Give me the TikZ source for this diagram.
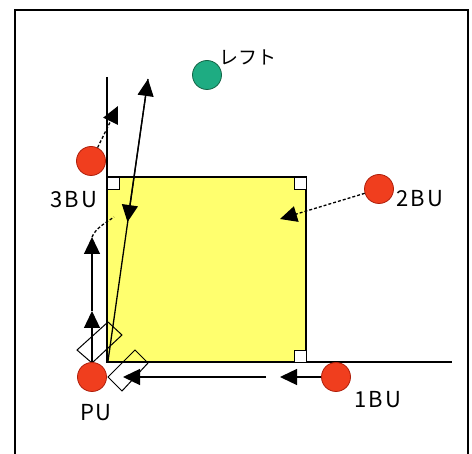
\documentclass[tikz,border=0pt]{standalone}
\usepackage{fontspec}
\newfontfamily\jpfont{Noto Sans CJK JP}
\usetikzlibrary{arrows.meta}
\definecolor{runnerred}{RGB}{240,62,30}
\definecolor{runneredge}{RGB}{175,30,10}
\definecolor{leftgreen}{RGB}{30,172,130}
\definecolor{leftedge}{RGB}{20,100,70}
\definecolor{infield}{RGB}{255,255,110}
\begin{document}
\begin{tikzpicture}[x=1pt,y=-1pt,
  player/.style={circle,draw=runneredge,fill=runnerred,line width=0.8pt,minimum size=29pt,inner sep=0pt},
  fielder/.style={circle,draw=leftedge,fill=leftgreen,line width=0.8pt,minimum size=29pt,inner sep=0pt},
  tag/.style={font=\jpfont\fontsize{22}{26}\selectfont\addfontfeature{LetterSpace=8},inner sep=0pt},
  throw/.style={line width=1.3pt,-{Triangle[length=17pt,width=16pt]}},
  cornermark/.style={draw,fill=white,line width=0.9pt}]
\useasboundingbox (0,0) rectangle (472,454);
% frame
\draw[line width=2pt] (15,454) -- (15,10) -- (468,10) -- (468,454);
% infield and foul lines
\draw[line width=2pt,fill=infield] (107,177) rectangle (306,362);
\draw[line width=1.4pt] (107,77) -- (107,362) -- (452,362);
\draw[cornermark] (107,177) rectangle +(12,12);
\draw[cornermark] (294,177) rectangle +(12,12);
\draw[cornermark] (294,350) rectangle +(12,12);
% boxes at home
\draw[line width=1pt] (77,350) -- (108,322) -- (122,335) -- (92,363) -- cycle;
\draw[line width=1pt] (108,377) -- (135,350) -- (148,363) -- (122,391) -- cycle;
% players
\node[player] (pu) at (92,377) {};
\node[player] (tb) at (91,161) {};
\node[player] (sb) at (379,189) {};
\node[player] (fb) at (336,377) {};
\node[fielder] (lf) at (207,75) {};
\node[tag] (pulabel) at (96,413) {PU};
\node[tag] (tblabel) at (74,200) {3BU};
\node[tag] (sblabel) at (420,199) {2BU};
\node[tag] (fblabel) at (378,400) {1BU};
\node[tag,font=\jpfont\fontsize{19}{22}\selectfont] (lflabel) at (248,57) {レフト};
% points of the play
\coordinate (fbstop) at (280,377);
\coordinate (relaystart) at (266,377);
\coordinate (relaystop) at (123,377);
\coordinate (pumid) at (92,311);
\coordinate (putop) at (92,237);
\coordinate (hitstart) at (108,361);
\coordinate (hittop) at (148,79);
\coordinate (droptip) at (127.5,222);
\coordinate (tbstop) at (118,106);
\coordinate (sbstop) at (280,219);
% arrows
\draw[throw] (fb) -- (fbstop);
\draw[throw] (relaystart) -- (relaystop);
\draw[throw] (pu) -- (pumid);
\draw[throw] (pumid) -- (putop);
\draw[line width=1.3pt,dash pattern=on 3pt off 2pt] (putop) .. controls (96,228) and (104,224) .. (114,217);
\draw[throw] (hitstart) -- (hittop);
\draw[throw] (hittop) -- (droptip);
\draw[throw,dash pattern=on 3pt off 2pt] (tb) -- (tbstop);
\draw[throw,dash pattern=on 3pt off 2pt] (sb) -- (sbstop);
\end{tikzpicture}
\end{document}
